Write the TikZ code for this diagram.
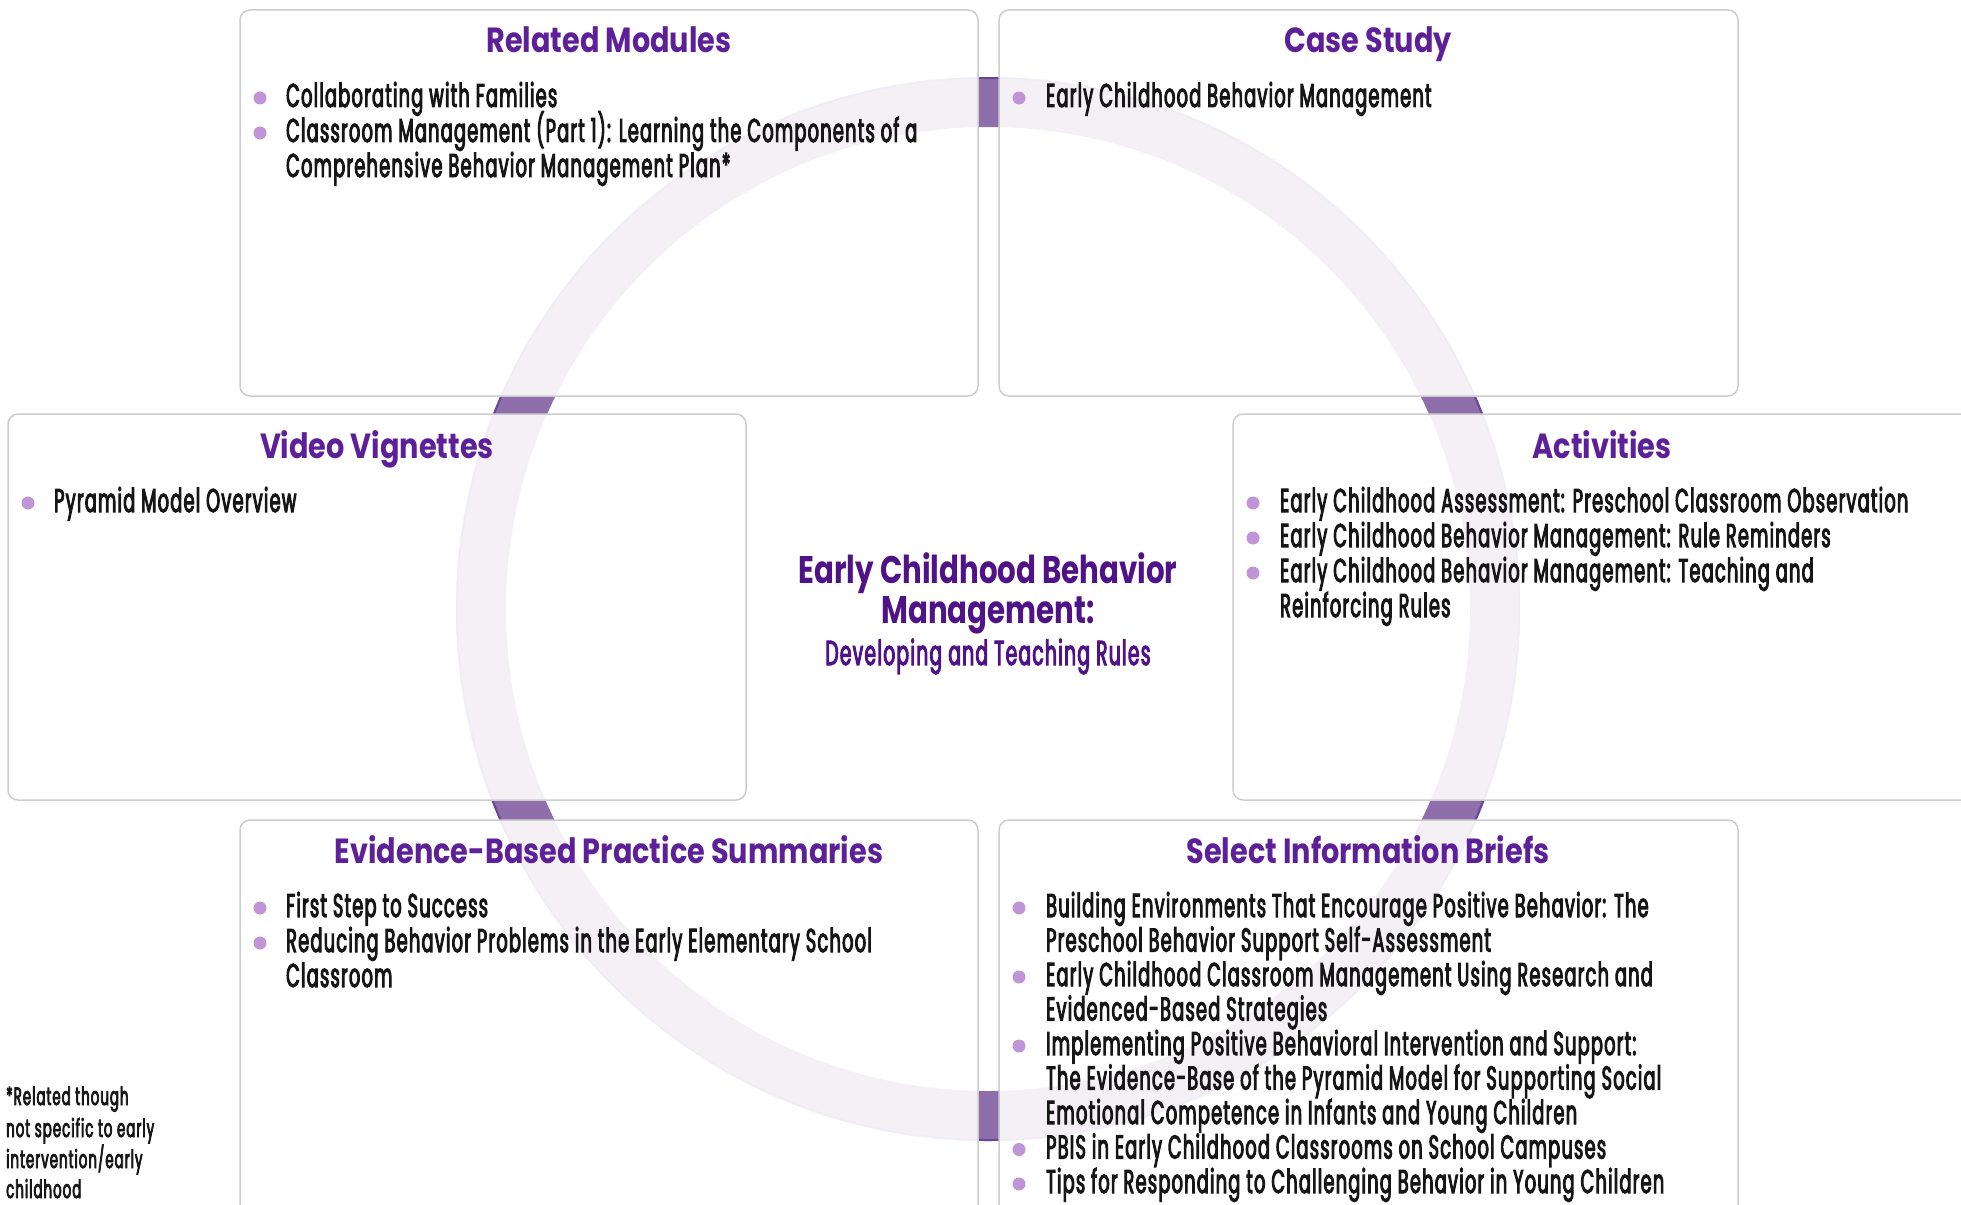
\documentclass[tikz,border=0pt]{standalone}
\usepackage{tikz}
\usepackage{fontspec}
\definecolor{ringp}{RGB}{143,111,171}
\definecolor{ringdark}{RGB}{104,72,150}
\definecolor{boxgray}{RGB}{205,205,205}
\definecolor{ttlpurple}{RGB}{93,32,152}
\definecolor{cenpurple}{RGB}{80,18,135}
\definecolor{dotpurple}{RGB}{192,148,214}
\definecolor{bodyblack}{RGB}{22,22,22}
% ---- font calibration ----
\newfontfamily\PopProbe{Poppins}
\newfontfamily\ProbeA{Poppins}[LetterSpace=4]
\newfontfamily\ProbeB{Poppins}[LetterSpace=4,FakeStretch=0.5]
\newlength\capR \newlength\capB \newlength\wA \newlength\wBB \newlength\wB \newlength\wC
\newlength\wS \newlength\wF
\sbox0{\PopProbe\fontsize{100pt}{100pt}\selectfont H}\setlength\capR{\ht0}
\sbox0{\PopProbe\bfseries\fontsize{100pt}{100pt}\selectfont H}\setlength\capB{\ht0}
\pgfmathsetmacro\bodysize{23*100/\capR}
\sbox0{\ProbeA\fontsize{\bodysize pt}{\bodysize pt}\selectfont Collaborating with Families}\setlength\wA{\wd0}
\sbox0{\ProbeB\fontsize{\bodysize pt}{\bodysize pt}\selectfont Collaborating with Families}\setlength\wBB{\wd0}
\sbox0{\PopProbe\bfseries\fontsize{100pt}{100pt}\selectfont Related Modules}\setlength\wB{\wd0}
\sbox0{\PopProbe\bfseries\fontsize{100pt}{100pt}\selectfont Early Childhood Behavior}\setlength\wC{\wd0}
\pgfmathsetmacro\bodystretch{0.5+0.5*(271-\wBB)/(\wA-\wBB)}
\pgfmathsetmacro\titlesize{24.5*100/\capB}
\pgfmathsetmacro\titlestretch{245/(\wB/100*\titlesize)}
\pgfmathsetmacro\censize{27*100/\capB}
\pgfmathsetmacro\censtretch{379/(\wC/100*\censize)}
\edef\tmpdef{\noexpand\newfontfamily\noexpand\BodyF{Poppins}[LetterSpace=4,FakeStretch=\bodystretch,FakeBold=3]}\tmpdef
\edef\tmpdef{\noexpand\newfontfamily\noexpand\TitleF{Poppins}[FakeStretch=\titlestretch]}\tmpdef
\edef\tmpdef{\noexpand\newfontfamily\noexpand\CenF{Poppins}[FakeStretch=\censtretch]}\tmpdef
\sbox0{\BodyF\fontsize{\bodysize pt}{\bodysize pt}\selectfont Developing and Teaching Rules}\setlength\wS{\wd0}
\sbox0{\BodyF\fontsize{\bodysize pt}{\bodysize pt}\selectfont not specific to early}\setlength\wF{\wd0}
\pgfmathsetmacro\subsize{\bodysize*325/\wS}
\pgfmathsetmacro\footsize{\bodysize*148/\wF}
\tikzset{
  boxsty/.style={draw=boxgray, line width=1.5pt, rounded corners=10pt, fill=white,
    fill opacity=0.9, inner sep=0pt, outer sep=0pt, anchor=north west},
  ttl/.style={anchor=base, inner sep=0pt, text=ttlpurple,
    font=\TitleF\bfseries\fontsize{\titlesize pt}{\titlesize pt}\selectfont},
  centtl/.style={anchor=base, inner sep=0pt, text=cenpurple,
    font=\CenF\bfseries\fontsize{\censize pt}{\censize pt}\selectfont},
  censub/.style={anchor=base, inner sep=0pt, text=cenpurple,
    font=\BodyF\fontsize{\subsize pt}{\subsize pt}\selectfont},
  bodytxt/.style={anchor=base west, inner sep=0pt, text=bodyblack,
    font=\BodyF\fontsize{\bodysize pt}{\bodysize pt}\selectfont},
  foottxt/.style={anchor=base west, inner sep=0pt, text=bodyblack,
    font=\BodyF\fontsize{\footsize pt}{\footsize pt}\selectfont},
  bdot/.style={circle, fill=dotpurple, inner sep=0pt, minimum size=13pt},
  ring/.style={draw=ringp, line width=50pt},
  ringedge/.style={draw=ringdark, line width=2pt}
}
\begin{document}
\begin{tikzpicture}[x=1pt,y=-1pt]
\useasboundingbox (0,0) rectangle (1961,1204);
\clip (0,0) rectangle (1961,1204);
% ring
\coordinate (c) at (988,609);
\draw[ring] (c) circle[radius=507pt];
\draw[ringedge] (c) circle[radius=531pt];
% boxes
\node[boxsty, minimum width=738pt, minimum height=386pt] (rm)  at (240,10) {};
\node[boxsty, minimum width=739pt, minimum height=386pt] (cs)  at (999,10) {};
\node[boxsty, minimum width=738pt, minimum height=386pt] (vv)  at (8,414) {};
\node[boxsty, minimum width=738pt, minimum height=386pt] (act) at (1233,414) {};
\node[boxsty, minimum width=738pt, minimum height=400pt] (eb)  at (240,820) {};
\node[boxsty, minimum width=739pt, minimum height=400pt] (sib) at (999,820) {};
% Related Modules
\node[ttl] (rmT) at (609,53) {Related Modules};
\node[bdot] (rmd1) at (260,98) {};
\node[bodytxt] (rm1) at (286,107) {Collaborating with Families};
\node[bdot] (rmd2) at (260,133) {};
\node[bodytxt] (rm2) at (286,142) {Classroom Management (Part 1): Learning the Components of a};
\node[bodytxt] (rm2b) at (286,177) {Comprehensive Behavior Management Plan*};
% Case Study
\node[ttl] (csT) at (1368,53) {Case Study};
\node[bdot] (csd1) at (1019,98) {};
\node[bodytxt] (cs1) at (1046,107) {Early Childhood Behavior Management};
% Video Vignettes
\node[ttl] (vvT) at (377,458) {Video Vignettes};
\node[bdot] (vvd1) at (28,503) {};
\node[bodytxt] (vv1) at (54,512) {Pyramid Model Overview};
% Activities
\node[ttl] (actT) at (1602,458) {Activities};
\node[bdot] (actd1) at (1253,503) {};
\node[bodytxt] (act1) at (1280,512) {Early Childhood Assessment: Preschool Classroom Observation};
\node[bdot] (actd2) at (1253,538) {};
\node[bodytxt] (act2) at (1280,547) {Early Childhood Behavior Management: Rule Reminders};
\node[bdot] (actd3) at (1253,573) {};
\node[bodytxt] (act3) at (1280,582) {Early Childhood Behavior Management: Teaching and};
\node[bodytxt] (act3b) at (1280,617) {Reinforcing Rules};
% Evidence-Based
\node[ttl] (ebT) at (609,863) {Evidence-Based Practice Summaries};
\node[bdot] (ebd1) at (260,908) {};
\node[bodytxt] (eb1) at (286,917) {First Step to Success};
\node[bdot] (ebd2) at (260,943) {};
\node[bodytxt] (eb2) at (286,952) {Reducing Behavior Problems in the Early Elementary School};
\node[bodytxt] (eb2b) at (286,987) {Classroom};
% Select Information Briefs
\node[ttl] (sibT) at (1368,863) {Select Information Briefs};
\node[bdot] (sibd1) at (1019,908) {};
\node[bodytxt] (sib1) at (1046,917) {Building Environments That Encourage Positive Behavior: The};
\node[bodytxt] (sib1b) at (1046,951.5) {Preschool Behavior Support Self-Assessment};
\node[bdot] (sibd2) at (1019,977) {};
\node[bodytxt] (sib2) at (1046,986) {Early Childhood Classroom Management Using Research and};
\node[bodytxt] (sib2b) at (1046,1020.5) {Evidenced-Based Strategies};
\node[bdot] (sibd3) at (1019,1046) {};
\node[bodytxt] (sib3) at (1046,1055) {Implementing Positive Behavioral Intervention and Support:};
\node[bodytxt] (sib3b) at (1046,1089.5) {The Evidence-Base of the Pyramid Model for Supporting Social};
\node[bodytxt] (sib3c) at (1046,1124) {Emotional Competence in Infants and Young Children};
\node[bdot] (sibd4) at (1019,1149.5) {};
\node[bodytxt] (sib4) at (1046,1158.5) {PBIS in Early Childhood Classrooms on School Campuses};
\node[bdot] (sibd5) at (1019,1184) {};
\node[bodytxt] (sib5) at (1046,1193) {Tips for Responding to Challenging Behavior in Young Children};
% centre
\node[centtl] (cen1) at (988,583) {Early Childhood Behavior};
\node[centtl] (cen2) at (988,623) {Management:};
\node[censub] (cen3) at (988,665) {Developing and Teaching Rules};
% footnote
\node[foottxt] (fn1) at (6,1105) {*Related though};
\node[foottxt] (fn2) at (6,1137) {not specific to early};
\node[foottxt] (fn3) at (6,1168) {intervention/early};
\node[foottxt] (fn4) at (6,1198) {childhood};
\end{tikzpicture}
\end{document}
